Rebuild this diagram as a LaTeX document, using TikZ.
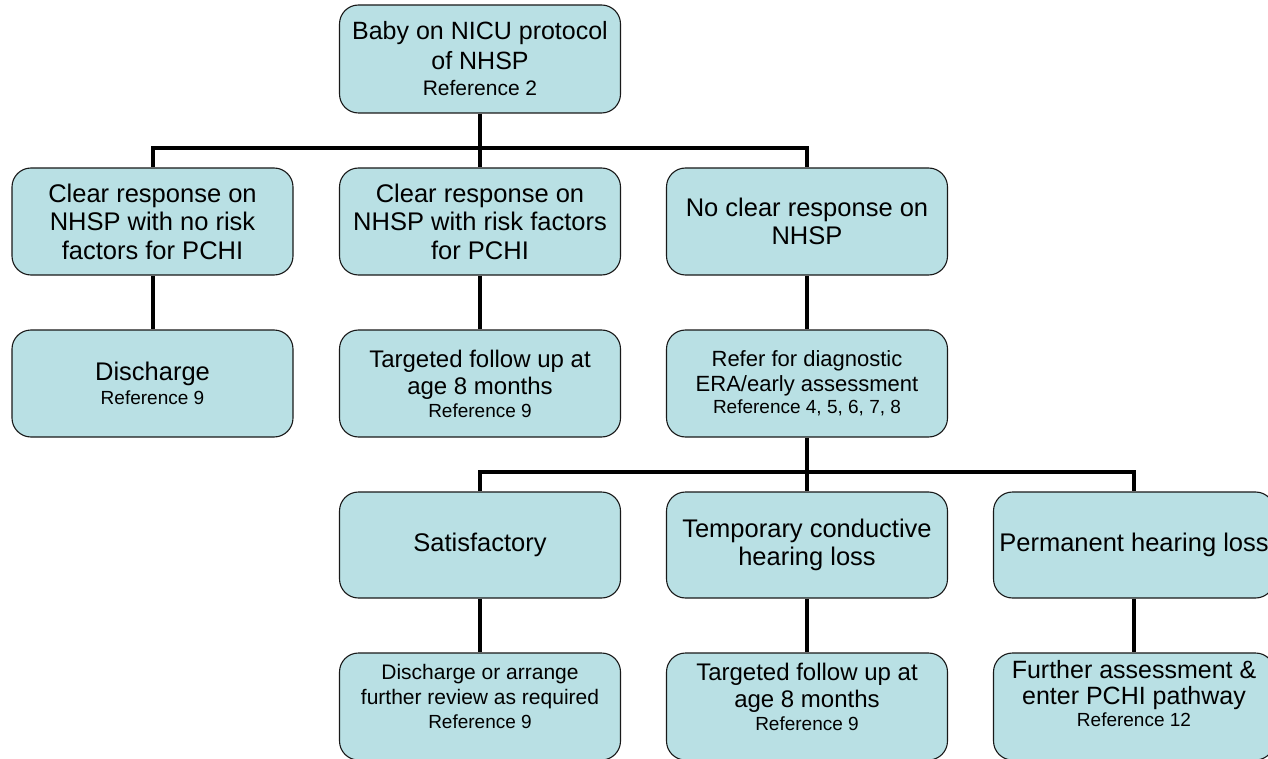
\documentclass[tikz,border=0pt]{standalone}
\usepackage{fontspec}
\setmainfont{Liberation Sans}
\usetikzlibrary{backgrounds}
\definecolor{boxfill}{RGB}{185,224,228}
\newcommand{\reftxt}[1]{{\fontsize{19}{22}\selectfont #1}}
\tikzset{
  stagebox/.style={draw=black!90, line width=1.1pt, fill=boxfill,
    rounded corners=19pt, minimum width=281pt, minimum height=107pt,
    align=center, inner sep=2pt, font=\fontsize{25.5}{28.5}\selectfont},
  link/.style={draw=black, line width=4pt, line join=miter},
}
\begin{document}
\begin{tikzpicture}[x=1pt, y=-1pt]
\useasboundingbox (0,0) rectangle (1268,759);
\clip (0,0) rectangle (1268,759);

% root
\node[stagebox, minimum height=108pt, font=\fontsize{25}{30}\selectfont] (root) at (480,59)
  {Baby on NICU protocol\\of NHSP\\[-4pt]{\fontsize{21}{24}\selectfont Reference 2}};

% first level outcomes
\node[stagebox] (noRisk) at (152.5,221.5)
  {Clear response on\\NHSP with no risk\\factors for PCHI};
\node[stagebox] (risk) at (480,221.5)
  {Clear response on\\NHSP with risk factors\\for PCHI};
\node[stagebox] (noClear) at (807,221.5)
  {No clear response on\\NHSP};

% first level actions
\node[stagebox] (discharge) at (152.5,383.5)
  {Discharge\\[-4pt]\reftxt{Reference 9}};
\node[stagebox, font=\fontsize{24}{27}\selectfont] (followA) at (480,383.5)
  {Targeted follow up at\\age 8 months\\[-4pt]\reftxt{Reference 9}};
\node[stagebox, font=\fontsize{22}{25}\selectfont] (diag) at (807,383.5)
  {Refer for diagnostic\\ERA/early assessment\\[-3pt]\reftxt{Reference 4, 5, 6, 7, 8}};

% diagnostic results
\node[stagebox, minimum height=106pt] (satis) at (480,545) {Satisfactory};
\node[stagebox, minimum height=106pt] (temp) at (807,545)
  {Temporary conductive\\hearing loss};
\node[stagebox, minimum height=106pt] (perm) at (1134,545)
  {Permanent hearing loss};

% follow-on actions
\node[stagebox, font=\fontsize{21}{25}\selectfont, text depth=20pt] (review) at (480,706.5)
  {Discharge or arrange\\further review as required\\[-1pt]\reftxt{Reference 9}};
\node[stagebox, font=\fontsize{24}{27}\selectfont, text depth=20pt] (followB) at (807,706.5)
  {Targeted follow up at\\age 8 months\\[-4pt]\reftxt{Reference 9}};
\node[stagebox, font=\fontsize{25}{25.5}\selectfont, text depth=26pt] (further) at (1134,706.5)
  {Further assessment \&\\enter PCHI pathway\\[-3pt]\reftxt{Reference 12}};

% connectors
\coordinate (busA) at (480,148);
\coordinate (busB) at (807,472);
\begin{scope}[on background layer]
  \draw[link] (root.south) -- (risk.north);
  \draw[link] (noRisk.north) -- (noRisk.north |- busA) -- (noClear.north |- busA) -- (noClear.north);
  \draw[link] (noRisk.south) -- (discharge.north);
  \draw[link] (risk.south) -- (followA.north);
  \draw[link] (noClear.south) -- (diag.north);
  \draw[link] (diag.south) -- (temp.north);
  \draw[link] (satis.north) -- (satis.north |- busB) -- (perm.north |- busB) -- (perm.north);
  \draw[link] (satis.south) -- (review.north);
  \draw[link] (temp.south) -- (followB.north);
  \draw[link] (perm.south) -- (further.north);
\end{scope}
\end{tikzpicture}
\end{document}
